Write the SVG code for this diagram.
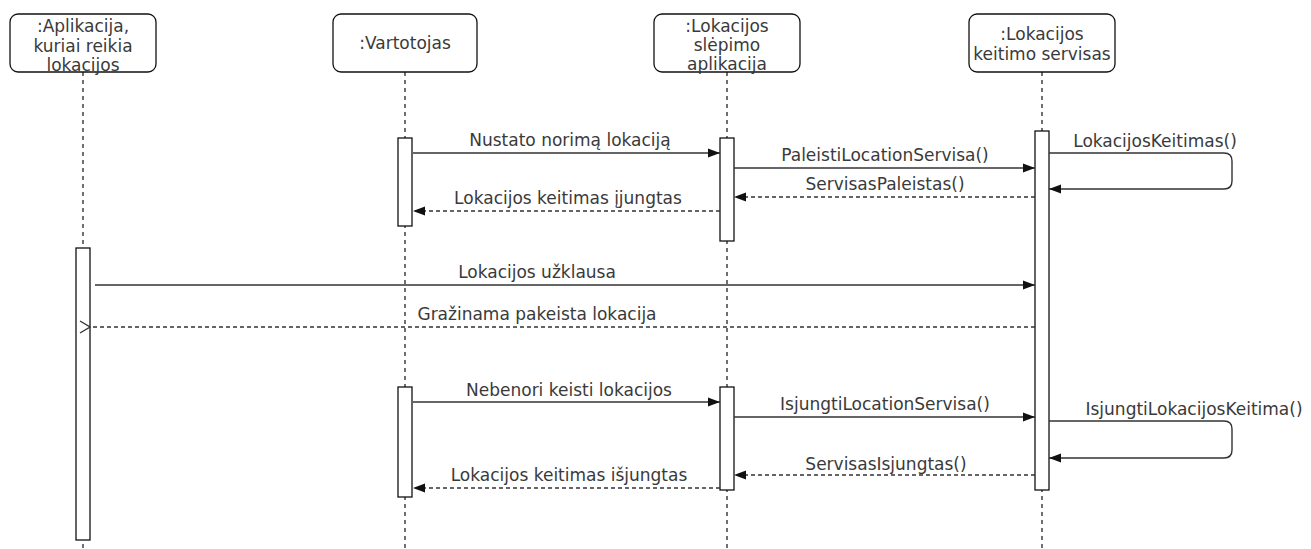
<svg xmlns="http://www.w3.org/2000/svg" width="1311" height="549" viewBox="0 0 1311 549">
  <style>
    .head { fill: #fff; stroke: #111; stroke-width: 1.3; }
    .life { stroke: #111; stroke-width: 1.2; stroke-dasharray: 4 4; fill: none; }
    .bar { fill: #fff; stroke: #111; stroke-width: 1.3; }
    .msg { stroke: #333; stroke-width: 1.4; fill: none; }
    .ret { stroke: #333; stroke-width: 1.4; fill: none; stroke-dasharray: 4 3; }
    text { font-family: "DejaVu Sans", Verdana, sans-serif; font-size: 17px; fill: #3a3a3a; text-anchor: middle; }
  </style>
  <defs>
    <marker id="fill" viewBox="0 0 12 10" refX="12" refY="5" markerWidth="12" markerHeight="10" markerUnits="userSpaceOnUse" orient="auto">
      <path d="M0,0.5 L12,5 L0,9.5 Z" fill="#111"/>
    </marker>
    <marker id="open" viewBox="0 0 12 14" refX="1" refY="7" markerWidth="12" markerHeight="14" markerUnits="userSpaceOnUse" orient="auto">
      <path d="M11,1 L1,7 L11,13" fill="none" stroke="#333" stroke-width="1.3"/>
    </marker>
  </defs>

  <!-- lifelines -->
  <g id="lifelines">
    <line class="life" x1="83" y1="72" x2="83" y2="549"/>
    <line class="life" x1="405" y1="72" x2="405" y2="549"/>
    <line class="life" x1="727" y1="72" x2="727" y2="549"/>
    <line class="life" x1="1042" y1="72" x2="1042" y2="549"/>
  </g>

  <!-- participants -->
  <g id="app">
    <rect class="head" x="10" y="14" width="146" height="58" rx="8"/>
    <text x="83" y="32">:Aplikacija,</text>
    <text x="83" y="52">kuriai reikia</text>
    <text x="83" y="71">lokacijos</text>
    <rect class="bar" x="76" y="248" width="14" height="292"/>
  </g>
  <g id="user">
    <rect class="head" x="333" y="14" width="144" height="58" rx="8"/>
    <text x="405" y="49">:Vartotojas</text>
    <rect class="bar" x="398" y="138" width="14" height="88"/>
    <rect class="bar" x="398" y="387" width="14" height="110"/>
  </g>
  <g id="hider">
    <rect class="head" x="654" y="14" width="146" height="58" rx="8"/>
    <text x="727" y="32">:Lokacijos</text>
    <text x="727" y="51">slėpimo</text>
    <text x="727" y="70">aplikacija</text>
    <rect class="bar" x="720" y="138" width="14" height="103"/>
    <rect class="bar" x="720" y="387" width="14" height="103"/>
  </g>
  <g id="service">
    <rect class="head" x="969" y="14" width="146" height="58" rx="8"/>
    <text x="1042" y="40">:Lokacijos</text>
    <text x="1042" y="60">keitimo servisas</text>
    <rect class="bar" x="1035" y="131" width="14" height="359"/>
  </g>

  <!-- messages -->
  <g id="connectors">
    <line class="msg" x1="413" y1="153" x2="720" y2="153" marker-end="url(#fill)"/>
    <line class="msg" x1="734" y1="168" x2="1035" y2="168" marker-end="url(#fill)"/>
    <path class="msg" d="M1049,153 H1224 Q1232,153 1232,161 V181 Q1232,189 1224,189 H1049" marker-end="url(#fill)"/>
    <line class="ret" x1="1035" y1="197" x2="734" y2="197" marker-end="url(#fill)"/>
    <line class="ret" x1="720" y1="211" x2="413" y2="211" marker-end="url(#fill)"/>

    <line class="msg" x1="95" y1="285" x2="1035" y2="285" marker-end="url(#fill)"/>
    <line class="ret" x1="1035" y1="327" x2="90" y2="327" marker-end="url(#open)"/>

    <line class="msg" x1="413" y1="402" x2="720" y2="402" marker-end="url(#fill)"/>
    <line class="msg" x1="734" y1="417" x2="1035" y2="417" marker-end="url(#fill)"/>
    <path class="msg" d="M1049,421 H1224 Q1232,421 1232,429 V450 Q1232,458 1224,458 H1049" marker-end="url(#fill)"/>
    <line class="ret" x1="1035" y1="475" x2="734" y2="475" marker-end="url(#fill)"/>
    <line class="ret" x1="720" y1="488" x2="413" y2="488" marker-end="url(#fill)"/>
  </g>

  <!-- message labels -->
  <g id="labels">
    <text x="570" y="146">Nustato norimą lokaciją</text>
    <text x="885" y="161">PaleistiLocationServisa()</text>
    <text x="1155" y="147">LokacijosKeitimas()</text>
    <text x="885" y="190">ServisasPaleistas()</text>
    <text x="568" y="204">Lokacijos keitimas įjungtas</text>
    <text x="537" y="278">Lokacijos užklausa</text>
    <text x="537" y="320">Gražinama pakeista lokacija</text>
    <text x="569" y="396">Nebenori keisti lokacijos</text>
    <text x="885" y="410">IsjungtiLocationServisa()</text>
    <text x="1194" y="415">IsjungtiLokacijosKeitima()</text>
    <text x="886" y="470">ServisasIsjungtas()</text>
    <text x="569" y="481">Lokacijos keitimas išjungtas</text>
  </g>
</svg>
